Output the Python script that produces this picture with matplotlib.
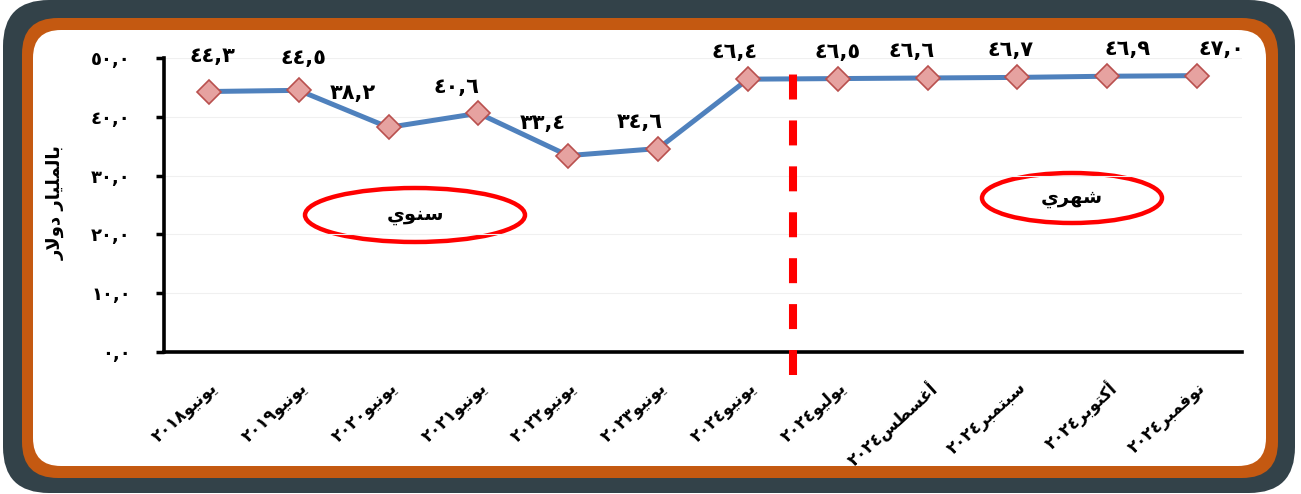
"""Line chart: annual (June) and monthly values, Arabic labels."""

import matplotlib
matplotlib.use("Agg")
import matplotlib.pyplot as plt
from matplotlib.patches import FancyBboxPatch, Ellipse

# ---- data ----
year_labels = ["يونيو٢٠١٨", "يونيو٢٠١٩", "يونيو٢٠٢٠", "يونيو٢٠٢١",
               "يونيو٢٠٢٢", "يونيو٢٠٢٣", "يونيو٢٠٢٤"]
month_labels = ["يوليو٢٠٢٤", "أغسطس٢٠٢٤", "سبتمبر٢٠٢٤", "أكتوبر٢٠٢٤", "نوفمبر٢٠٢٤"]
year_values = [44.3, 44.5, 38.2, 40.6, 33.4, 34.6, 46.4]
month_values = [46.5, 46.6, 46.7, 46.9, 47.0]
y_ticks = [0, 10, 20, 30, 40, 50]
y_title = "بالمليار دولار"
annual_tag = "سنوي"
monthly_tag = "شهري"

# label offsets (pixels) from each marker
label_dx = [4, 5, -36, -22, -26, -18, -13, 0, -16, -7, 20, 24]
label_dy = [36, 32, 34, 26, 33, 27, 27, 27, 27, 27, 27, 27]

# ---- minimal arabic shaping (matplotlib does no shaping / bidi) ----
FORMS = {
    "ا": (0xFE8D, 0xFE8E, None, None),
    "أ": (0xFE83, 0xFE84, None, None),
    "ب": (0xFE8F, 0xFE90, 0xFE91, 0xFE92),
    "ت": (0xFE95, 0xFE96, 0xFE97, 0xFE98),
    "د": (0xFEA9, 0xFEAA, None, None),
    "ر": (0xFEAD, 0xFEAE, None, None),
    "س": (0xFEB1, 0xFEB2, 0xFEB3, 0xFEB4),
    "ش": (0xFEB5, 0xFEB6, 0xFEB7, 0xFEB8),
    "ط": (0xFEC1, 0xFEC2, 0xFEC3, 0xFEC4),
    "غ": (0xFECD, 0xFECE, 0xFECF, 0xFED0),
    "ف": (0xFED1, 0xFED2, 0xFED3, 0xFED4),
    "ك": (0xFED9, 0xFEDA, 0xFEDB, 0xFEDC),
    "ل": (0xFEDD, 0xFEDE, 0xFEDF, 0xFEE0),
    "م": (0xFEE1, 0xFEE2, 0xFEE3, 0xFEE4),
    "ن": (0xFEE5, 0xFEE6, 0xFEE7, 0xFEE8),
    "ه": (0xFEE9, 0xFEEA, 0xFEEB, 0xFEEC),
    "و": (0xFEED, 0xFEEE, None, None),
    "ي": (0xFEF1, 0xFEF2, 0xFEF3, 0xFEF4),
}
DIGITS = "٠١٢٣٤٥٦٧٨٩,"


def joins_forward(c):
    return c in FORMS and FORMS[c][2] is not None


def shape(text):
    out = []
    i = 0
    n = len(text)
    while i < n:
        c = text[i]
        if c not in FORMS:
            out.append(c)
            i += 1
            continue
        prev = text[i - 1] if i > 0 else None
        nxt = text[i + 1] if i + 1 < n else None
        jp = joins_forward(prev)
        if c == "ل" and nxt == "ا":
            out.append(chr(0xFEFC if jp else 0xFEFB))
            i += 2
            continue
        jn = nxt in FORMS and joins_forward(c)
        iso, fin, ini, med = FORMS[c]
        if jp and jn:
            f = med
        elif jp:
            f = fin
        elif jn:
            f = ini
        else:
            f = iso
        out.append(chr(f))
        i += 1
    runs = []
    for ch in out:
        kind = "num" if ch in DIGITS else "ar"
        if runs and runs[-1][0] == kind:
            runs[-1][1].append(ch)
        else:
            runs.append([kind, [ch]])
    parts = ["".join(r[1][::-1]) if r[0] == "ar" else "".join(r[1]) for r in runs]
    return "".join(parts[::-1])


def ar_num(v, fmt="{:.1f}"):
    s = fmt.format(v).replace(".", ",")
    return s.translate(str.maketrans("0123456789", "٠١٢٣٤٥٦٧٨٩"))


plt.rcParams["font.family"] = ["DejaVu Sans"]

labels = year_labels + month_labels
values = year_values + month_values
xs = list(range(len(values)))

W, H = 1301, 494
fig = plt.figure(figsize=(W / 100, H / 100), dpi=100)
fig.patch.set_facecolor("white")

# frame
bg = fig.add_axes([0, 0, 1, 1])
bg.set_xlim(0, W)
bg.set_ylim(H, 0)
bg.axis("off")
bg.add_patch(FancyBboxPatch((3, 0), 1292, 493, boxstyle="round,pad=0,rounding_size=46",
                            fc="#334249", ec="none"))
bg.add_patch(FancyBboxPatch((22, 18), 1256, 460, boxstyle="round,pad=0,rounding_size=36",
                            fc="#C45911", ec="none"))
bg.add_patch(FancyBboxPatch((33, 30), 1233, 436, boxstyle="round,pad=0,rounding_size=28",
                            fc="white", ec="none"))

# chart
ax = fig.add_axes([164 / W, (H - 352) / H, 1078 / W, 294 / H])
ax.patch.set_alpha(0)
ax.plot(xs, values, color="#4F81BD", linewidth=3.6, zorder=3,
        marker="D", markersize=12.5, markerfacecolor="#E6A2A0",
        markeredgecolor="#B9504E", markeredgewidth=1.2)

for x, v, dx, dy in zip(xs, values, label_dx, label_dy):
    ax.annotate(ar_num(v), (x, v), xytext=(dx, dy), textcoords="offset pixels",
                ha="center", va="center", fontsize=15, fontweight="bold")

ax.axvline(6.5, ymin=-0.078, ymax=0.966, color="#FF0000", linewidth=5.8,
           linestyle=(0, (3.1, 2.6)), clip_on=False, zorder=4)

ax.set_xlim(-0.5, len(values) - 0.5)
ax.set_ylim(0, 50)
ax.set_yticks(y_ticks)
ax.set_yticklabels([ar_num(t) for t in y_ticks], fontsize=13, fontweight="bold")
ax.set_xticks(xs)
ax.set_xticklabels([shape(l) for l in labels], rotation=42, ha="right", va="top",
                   rotation_mode="anchor", fontsize=12, fontweight="bold")
ax.tick_params(axis="y", direction="out", length=6, width=2.5, pad=18)
ax.tick_params(axis="x", length=0, pad=19)
for s in ["top", "right"]:
    ax.spines[s].set_visible(False)
for s in ["left", "bottom"]:
    ax.spines[s].set_linewidth(2.6)
    ax.spines[s].set_color("black")
ax.grid(axis="y", color="#F0F0F0", linewidth=0.8)
ax.set_axisbelow(True)

bg.text(56, 203, shape(y_title), rotation=90, ha="center", va="center",
        fontsize=13, fontweight="bold")

# tags
bg.add_patch(Ellipse((415, 215), 220, 54, fill=False, ec="#FF0000", lw=3.2))
bg.text(415, 215, shape(annual_tag), ha="center", va="center", fontsize=14, fontweight="bold")
bg.add_patch(Ellipse((1072, 198), 180, 50, fill=False, ec="#FF0000", lw=3.2))
bg.text(1072, 198, shape(monthly_tag), ha="center", va="center", fontsize=14, fontweight="bold")

fig.savefig("out.png", dpi=100)
plt.close(fig)
